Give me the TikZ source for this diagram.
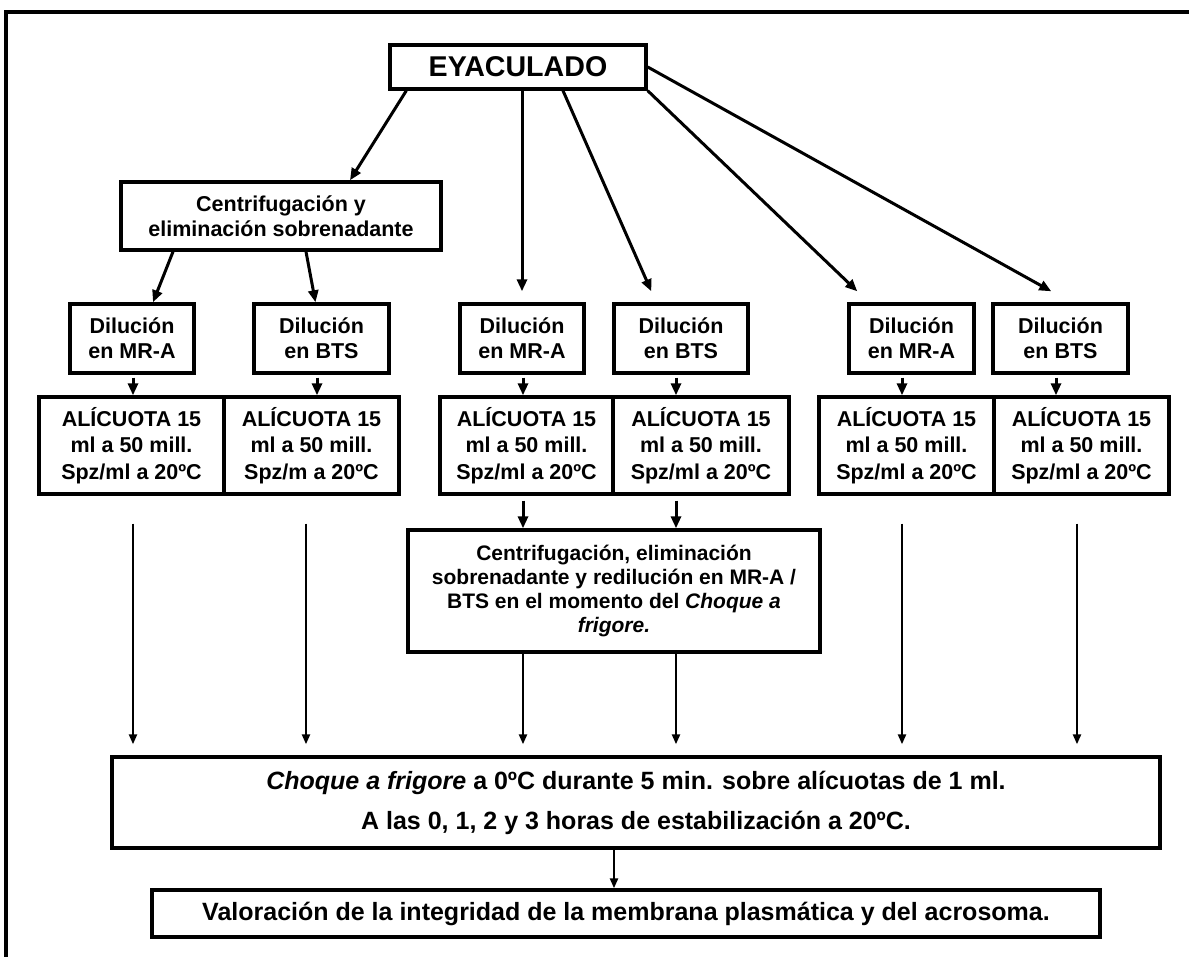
\documentclass[tikz,border=0pt]{standalone}
\usepackage{fontspec}
\setmainfont{Liberation Sans}
\usetikzlibrary{arrows.meta,positioning,calc}
\tikzset{
stage/.style={draw,line width=3.4pt,align=center,inner sep=0pt,font=\bfseries\fontsize{21.5}{25}\selectfont},
aliquot/.style={stage,minimum height=97pt,font=\bfseries\fontsize{21.5}{26.5}\selectfont},
dilution/.style={stage,minimum height=69pt},
flow/.style={-{Triangle[length=12pt,width=10pt]},line width=3pt},
longflow/.style={-{Triangle[length=10pt,width=8pt]},line width=2.3pt},
frame/.style={line width=3.4pt}
}

\begin{document}
\begin{tikzpicture}[x=1pt,y=-1pt]
\useasboundingbox (0,0) rectangle (1189,957);
\draw[frame] (6,957) -- (6,12) -- (1189,12);

\node[stage,minimum width=256pt,minimum height=44pt,font=\bfseries\fontsize{28.6}{32}\selectfont](eyac) at (518,67){EYACULADO};
\node[stage,minimum width=320pt,minimum height=68pt](centr1) at (281,216){Centrifugación y\\eliminación sobrenadante};

\node[dilution,minimum width=124pt](dil1) at (132,338.5){Dilución\\en MR-A};
\node[dilution,minimum width=135pt](dil2) at (321.5,338.5){Dilución\\en BTS};
\node[dilution,minimum width=124pt](dil3) at (522,338.5){Dilución\\en MR-A};
\node[dilution,minimum width=134pt](dil4) at (681,338.5){Dilución\\en BTS};
\node[dilution,minimum width=125pt](dil5) at (911.5,338.5){Dilución\\en MR-A};
\node[dilution,minimum width=135pt](dil6) at (1060.5,338.5){Dilución\\en BTS};

\node[aliquot,minimum width=185pt](ali1) at (131.5,445.5){ALÍCUOTA 15\\ml a 50 mill.\\Spz/ml a 20ºC};
\node[aliquot,minimum width=175pt](ali2) at (311.5,445.5){ALÍCUOTA 15\\ml a 50 mill.\\Spz/m a 20ºC};
\node[aliquot,minimum width=173pt](ali3) at (526.5,445.5){ALÍCUOTA 15\\ml a 50 mill.\\Spz/ml a 20ºC};
\node[aliquot,minimum width=176pt](ali4) at (701,445.5){ALÍCUOTA 15\\ml a 50 mill.\\Spz/ml a 20ºC};
\node[aliquot,minimum width=175pt](ali5) at (906.5,445.5){ALÍCUOTA 15\\ml a 50 mill.\\Spz/ml a 20ºC};
\node[aliquot,minimum width=175pt](ali6) at (1081.5,445.5){ALÍCUOTA 15\\ml a 50 mill.\\Spz/ml a 20ºC};

\node[stage,minimum width=412pt,minimum height=122pt,font=\bfseries\fontsize{21}{24.3}\selectfont](centr2) at (614,591){Centrifugación, eliminación\\sobrenadante y redilución en MR-A /\\BTS en el momento del \textit{Choque a}\\\textit{frigore.}};

\node[stage,minimum width=1048pt,minimum height=91pt,font=\bfseries\fontsize{25}{25}\selectfont](choque) at (636,802.5){\textit{Choque a frigore} a 0ºC durante 5 min. sobre alícuotas de 1 ml.\\[15pt]A las 0, 1, 2 y 3 horas de estabilización a 20ºC.};
\node[stage,minimum width=948pt,minimum height=47pt,font=\bfseries\fontsize{25}{25}\selectfont](valor) at (626,913.5){Valoración de la integridad de la membrana plasmática y del acrosoma.};

% from the ejaculate
\draw[flow]([xshift=18pt]eyac.south west)--([xshift=69pt]centr1.north);
\draw[flow](eyac.south -| dil3.north)--([yshift=11pt]dil3.north);
\draw[flow]([xshift=45pt]eyac.south)--([xshift=39pt,yshift=11pt]dil4.north west);
\draw[flow](eyac.south east)--([xshift=10pt,yshift=11pt]dil5.north west);
\draw[flow](eyac.east)--([xshift=60pt,yshift=11pt]dil6.north west);
\draw[flow]([xshift=-108pt]centr1.south)--([xshift=21pt]dil1.north);
\draw[flow]([xshift=25pt]centr1.south)--([xshift=-6pt]dil2.north);

\foreach \n/\dx in {1/1,2/-4.5,3/1,4/-5,5/-9.5,6/-4.5}
  \draw[flow,shorten <=3pt]([xshift=\dx pt]dil\n.south)--([xshift=\dx pt]dil\n.south |- ali\n.north);

% second centrifugation
\foreach \n/\dx in {3/1,4/-5}{
  \draw[flow,shorten <=5pt]([xshift=\dx pt]dil\n.south |- ali\n.south)--([xshift=\dx pt]dil\n.south |- centr2.north);
  \draw[longflow,shorten >=11pt]([xshift=\dx pt]dil\n.south |- centr2.south)--([xshift=\dx pt]dil\n.south |- choque.north);
}
\foreach \n/\dx in {1/1.5,2/-5.5,5/-4.5,6/-4.5}
  \draw[longflow,shorten >=11pt]([xshift=\dx pt,yshift=-28pt]ali\n.south)--([xshift=\dx pt]ali\n.south |- choque.north);

\draw[longflow]([xshift=-22pt]choque.south)--([xshift=-22pt]choque.south |- valor.north);
\end{tikzpicture}
\end{document}
